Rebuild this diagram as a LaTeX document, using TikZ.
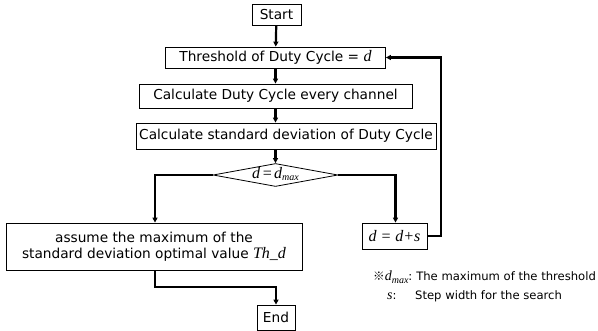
\documentclass[tikz,border=0pt]{standalone}
\usepackage{fontspec}
\setmainfont{DejaVu Sans}
\newfontfamily\mathser{Liberation Serif}
\newfontfamily\symf{Noto Sans CJK JP}
\usetikzlibrary{arrows.meta,shapes.geometric}
\newcommand{\vi}[1]{{\mathser\itshape\fontsize{16}{18}\selectfont #1}}
\newcommand{\vn}[1]{{\mathser\itshape\fontsize{14}{16}\selectfont #1}}
\newcommand{\vsub}[1]{\raisebox{-0.45ex}{\mathser\itshape\fontsize{10}{11}\selectfont #1}}
\begin{document}
\begin{tikzpicture}[x=1pt,y=-1pt,
  box/.style={draw,line width=0.8pt,inner sep=0pt,font=\fontsize{13.7}{16.5}\selectfont},
  flow/.style={line width=2.2pt,-{Triangle[length=5pt,width=5pt]}},
  notefont/.style={font=\fontsize{11.6}{14}\selectfont}]
\useasboundingbox (0,0) rectangle (598,331);
\node[box,minimum width=49pt,minimum height=21pt] (start) at (276.5,14.5) {Start};
\node[box,minimum width=220pt,minimum height=21pt] (thr) at (275.5,57.5) {Threshold of Duty Cycle = \vi{d}};
\node[box,minimum width=273pt,minimum height=24pt] (c1) at (275.5,96) {Calculate Duty Cycle every channel};
\node[box,minimum width=300pt,minimum height=26pt] (c2) at (286,136) {Calculate standard deviation of Duty Cycle};
\node[draw,line width=0.8pt,diamond,aspect=5.7,inner sep=0pt,minimum width=125pt,minimum height=23pt] (dec) at (275.5,175) {};
\node at (275.5,174) {\vi{d}\,\vi{=}\,\vi{d}\vsub{max}};
\node[box,minimum width=296pt,minimum height=47pt,align=center] (asm) at (154,246.5) {assume the maximum of the\\standard deviation optimal value \vi{Th\_d}};
\node[box,minimum width=65pt,minimum height=26pt] (inc) at (394.5,236) {\vi{d = d+s}};
\node[box,minimum width=38pt,minimum height=25pt] (end) at (276,317.5) {End};
\coordinate (fbR) at (441,236);
\coordinate (fbT) at (441,57.5);
\coordinate (dl) at (155,175);
\coordinate (dr) at (395.5,175);
\coordinate (el) at (155,287);
\coordinate (er) at (276,287);
\draw[flow] (start) -- (thr);
\draw[flow] (thr) -- (c1);
\draw[flow] (c1) -- (c2.north -| thr);
\draw[flow] (c2.south -| thr) -- (dec.north);
\draw[flow] (dec.west) -- (dl) -- (asm.north -| dl);
\draw[flow] (dec.east) -- (dr) -- (inc.north -| dr);
\draw[flow] (inc.east) -- (fbR) -- (fbT) -- (thr.east);
\draw[flow] (asm.south -| el) -- (el) -- (er) -- (end.north);
\node[anchor=base west,inner sep=0pt,notefont] (n1) at (374,281) {{\symf\hspace{-1pt}※}\vn{d}\vsub{max}:\hspace{-1pt} The maximum of the threshold};
\node[anchor=base west,inner sep=0pt,notefont] (n2) at (387,300) {\vn{s}:};
\node[anchor=base west,inner sep=0pt,notefont] (n3) at (415,300) {Step width for the search};
\end{tikzpicture}
\end{document}
